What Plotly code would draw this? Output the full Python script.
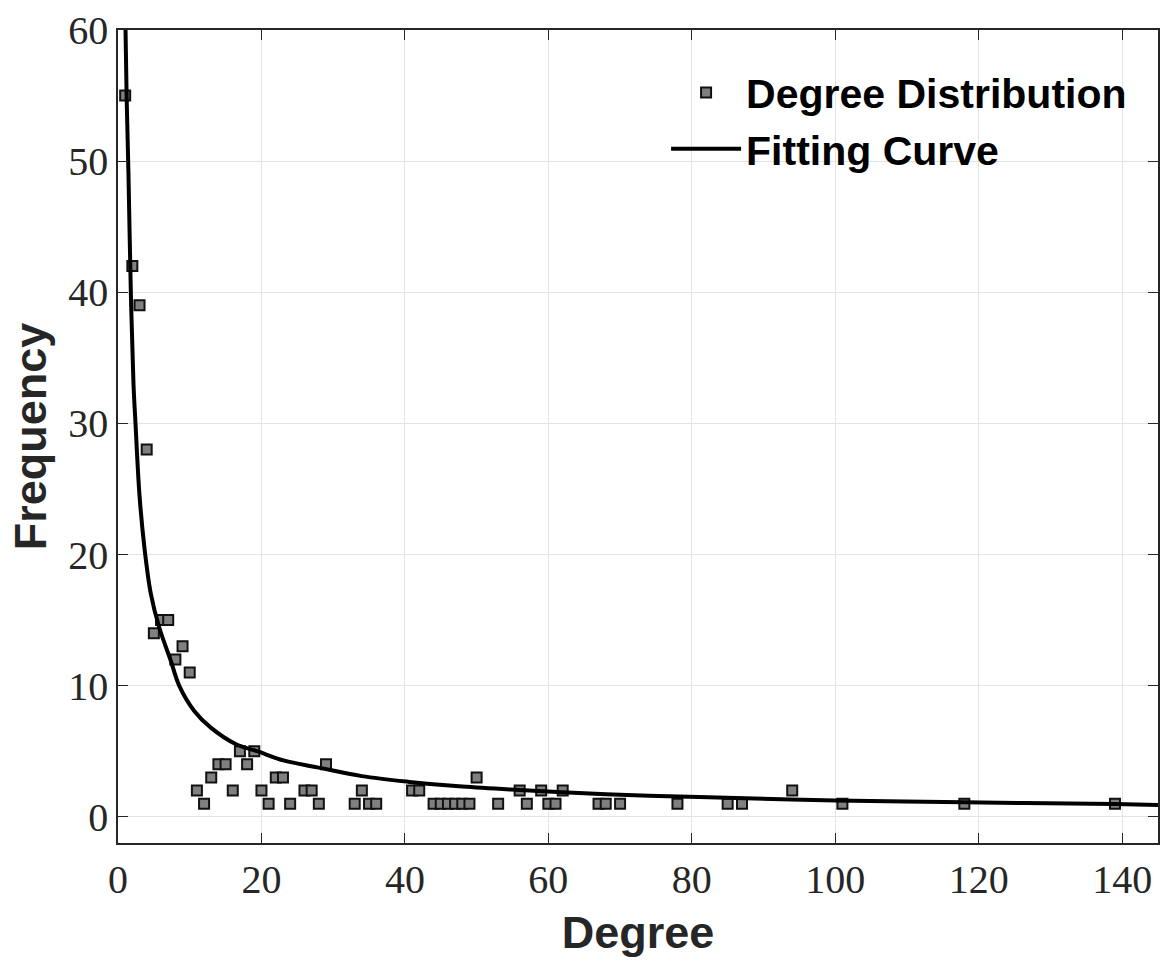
import plotly.graph_objects as go

# Degree distribution data
degree = [1, 2, 3, 4, 5, 6, 7, 8, 9, 10,
          11, 12, 13, 14, 15, 16, 17, 18, 19, 20,
          21, 22, 23, 24, 26, 27, 28, 29, 33, 34,
          35, 36, 41, 42, 44, 45, 46, 47, 48, 49,
          50, 53, 56, 57, 59, 60, 61, 62, 67, 68,
          70, 78, 85, 87, 94, 101, 118, 139]
frequency = [55, 42, 39, 28, 14, 15, 15, 12, 13, 11,
             2, 1, 3, 4, 4, 2, 5, 4, 5, 2,
             1, 3, 3, 1, 2, 2, 1, 4, 1, 2,
             1, 1, 2, 2, 1, 1, 1, 1, 1, 1,
             3, 1, 2, 1, 2, 1, 1, 2, 1, 1,
             1, 1, 1, 1, 2, 1, 1, 1]

# Fitting curve
fit_x = [1.05, 1.2, 1.46, 1.79, 2.16, 2.44, 3.0, 3.69, 4.58, 5.74, 7.36, 8.53,
         10.6, 12.9, 16.4, 19.4, 23.2, 27.8, 34, 40.6, 48, 56, 65, 74, 81,
         100, 120.5, 139, 145]
fit_y = [60, 55, 49, 40, 33, 30, 24.5, 20.5, 17.0, 14.45, 11.9, 10.0,
         8.09, 6.82, 5.55, 5.0, 4.28, 3.77, 3.1, 2.66, 2.3, 2.04, 1.8, 1.6, 1.5,
         1.25, 1.09, 0.97, 0.9]

x_ticks = [0, 20, 40, 60, 80, 100, 120, 140]
y_ticks = [0, 10, 20, 30, 40, 50, 60]

AX = "#262626"
GRID = "#e3e3e3"
TICKFONT = dict(family="Liberation Serif, DejaVu Serif, serif", size=40, color=AX)
TITLEFONT = dict(family="Liberation Sans, Arial, sans-serif", size=45, color=AX, weight="bold")

fig = go.Figure()
fig.add_trace(go.Scatter(
    x=degree, y=frequency, mode="markers", name="Degree Distribution",
    marker=dict(symbol="square", size=10, color="#808080",
                line=dict(color="#111111", width=2)),
))
fig.add_trace(go.Scatter(
    x=fit_x, y=fit_y, mode="lines", name="Fitting Curve",
    line=dict(color="black", width=4, shape="spline", smoothing=1.0),
))

fig.update_layout(
    width=1162, height=963,
    margin=dict(l=118, r=2, t=30, b=120),
    paper_bgcolor="white", plot_bgcolor="white",
    showlegend=True,
    legend=dict(
        x=0.527, y=0.964, xanchor="left", yanchor="top",
        bgcolor="rgba(0,0,0,0)", borderwidth=0, itemwidth=70,
        font=dict(family="Liberation Sans, Arial, sans-serif", size=41,
                  color="black", weight="bold"),
        tracegroupgap=0,
    ),
)

fig.update_xaxes(
    range=[0, 145], tickvals=x_ticks, ticktext=[str(v) for v in x_ticks],
    showgrid=True, gridcolor=GRID, gridwidth=1,
    showline=True, linecolor=AX, linewidth=1.5, mirror="ticks",
    ticks="inside", ticklen=10, tickcolor=AX, tickwidth=1.2,
    tickfont=TICKFONT, zeroline=False,
    title=dict(text="Degree", font=TITLEFONT, standoff=16),
)
fig.update_yaxes(
    range=[-2, 60], tickvals=y_ticks, ticktext=[str(v) for v in y_ticks],
    showgrid=True, gridcolor=GRID, gridwidth=1,
    showline=True, linecolor=AX, linewidth=1.5, mirror="ticks",
    ticks="inside", ticklen=10, tickcolor=AX, tickwidth=1.2,
    tickfont=TICKFONT, zeroline=False,
    title=dict(text="Frequency", font=TITLEFONT, standoff=8),
)

fig.write_html("out.html")
